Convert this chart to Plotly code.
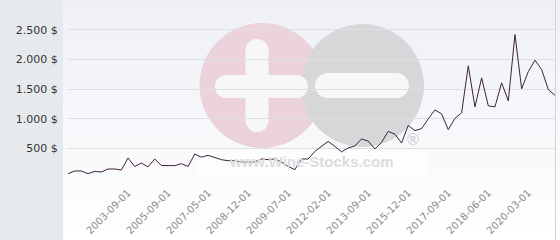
import plotly.graph_objects as go

# ---- data ----
values = [73, 118, 118, 73, 111, 101, 152, 152, 135, 338,
          194, 253, 187, 321, 211, 208, 208, 242, 194, 405,
          351, 382, 343, 309, 292, 292, 270, 270, 270, 321,
          309, 321, 270, 196, 140, 321, 321, 449, 534, 618,
          534, 441, 507, 540, 659, 622, 490, 601, 787, 740,
          591, 888, 799, 833, 997, 1149, 1081, 816, 1005, 1098,
          1892, 1199, 1689, 1218, 1199, 1605, 1302, 2420, 1505, 1795,
          1986, 1829, 1491, 1395]
tick_labels = ["2003-09-01", "2005-09-01", "2007-05-01", "2008-12-01", "2009-07-01",
               "2012-02-01", "2013-09-01", "2015-12-01", "2017-09-01", "2018-06-01",
               "2020-03-01"]
tick_positions = [9, 15, 21, 27, 33, 39, 45, 51, 57, 63, 69]
y_ticks = [0, 500, 1000, 1500, 2000, 2500]
y_tick_text = ["", "500 $", "1.000 $", "1.500 $", "2.000 $", "2.500 $"]

# ---- geometry helpers (figure pixels -> paper coords) ----
W, H = 560, 240
L, R, T, B = 68, 5, 12, 62
PW, PH = W - L - R, H - T - B


def px(x):
    return (x - L) / PW


def py(y):
    return (H - B - y) / PH


shapes = []
# background gradient
n = 24
for i in range(n):
    y0 = i * H / n
    y1 = (i + 1) * H / n
    t = (i + 0.5) / n
    c = tuple(int(round(a + (255 - a) * t)) for a in (238, 240, 246))
    shapes.append(dict(type="rect", xref="paper", yref="paper", layer="below",
                       x0=px(63), x1=px(W + 2), y0=py(y1), y1=py(y0),
                       fillcolor="rgb(%d,%d,%d)" % c, line_width=0))
# left grey panel
shapes.append(dict(type="rect", xref="paper", yref="paper", layer="below",
                   x0=px(-2), x1=px(63), y0=py(H + 2), y1=py(-2),
                   fillcolor="#e6eaed", line_width=0))
# right border line
shapes.append(dict(type="line", xref="paper", yref="paper", layer="below",
                   x0=px(555.5), x1=px(555.5), y0=py(H + 2), y1=py(-2),
                   line=dict(color="#d2d4d8", width=1)))


def circle(cx, cy, r, color):
    return dict(type="circle", xref="paper", yref="paper", layer="below",
                x0=px(cx - r), x1=px(cx + r), y0=py(cy + r), y1=py(cy - r),
                fillcolor=color, line_width=0)


def rect(x0, y0, x1, y1, color, opacity=1):
    return dict(type="rect", xref="paper", yref="paper", layer="below",
                x0=px(x0), x1=px(x1), y0=py(y1), y1=py(y0),
                fillcolor=color, line_width=0, opacity=opacity)


def bar_h(x0, x1, yc, h, color):
    r = h / 2
    return [rect(x0 + r, yc - r, x1 - r, yc + r, color),
            circle(x0 + r, yc, r, color), circle(x1 - r, yc, r, color)]


def bar_v(xc, y0, y1, w, color):
    r = w / 2
    return [rect(xc - r, y0 + r, xc + r, y1 - r, color),
            circle(xc, y0 + r, r, color), circle(xc, y1 - r, r, color)]


# watermark
shapes.append(rect(195, 148, 428, 176, "#ffffff", 0.55))
shapes.append(circle(262, 85.5, 62.5, "#ecd2db"))
shapes.append(circle(362.5, 85.5, 61.5, "#d7d7da"))
plus_col = "#f7f7fa"
shapes += bar_v(257, 39, 132, 23, plus_col)
shapes += bar_h(215, 308, 86.5, 23, plus_col)
shapes += bar_h(315, 409, 85.5, 25, plus_col)

annotations = [
    dict(text="<b>www.Wine-Stocks.com</b>", xref="paper", yref="paper",
         x=px(311.5), y=py(161.5), showarrow=False,
         font=dict(family="Liberation Sans", size=15, color="#dcdcde"),
         xanchor="center", yanchor="middle"),
    dict(text="<b>®</b>", xref="paper", yref="paper",
         x=px(413), y=py(139), showarrow=False,
         font=dict(family="Liberation Sans", size=16, color="#d4d4d8"),
         xanchor="center", yanchor="middle"),
]

fig = go.Figure()
fig.add_trace(go.Scatter(
    x=list(range(len(values))), y=values, mode="lines",
    line=dict(color="#3d2333", width=1), hoverinfo="skip", showlegend=False))

fig.update_layout(
    width=W, height=H,
    margin=dict(l=L, r=R, t=T, b=B, pad=0, autoexpand=False),
    paper_bgcolor="#ffffff",
    plot_bgcolor="rgba(0,0,0,0)",
    shapes=shapes,
    annotations=annotations,
    xaxis=dict(range=[0, len(values) - 1], tickmode="array",
               tickvals=tick_positions, ticktext=tick_labels, automargin=False,
               tickangle=-45, showgrid=False, zeroline=False, showline=False,
               ticks="outside", ticklen=4, tickcolor="rgba(0,0,0,0)",
               tickfont=dict(family="DejaVu Sans", size=10, color="#8a8a8a")),
    yaxis=dict(range=[0, 2800], tickmode="array", tickvals=y_ticks,
               ticktext=y_tick_text, showgrid=True, gridcolor="#dddfe2",
               gridwidth=1, zeroline=False, showline=False, automargin=False,
               ticks="outside", ticklen=7, tickcolor="rgba(0,0,0,0)",
               tickfont=dict(family="DejaVu Sans", size=11, color="#333333")),
)

fig.write_html("out.html")
